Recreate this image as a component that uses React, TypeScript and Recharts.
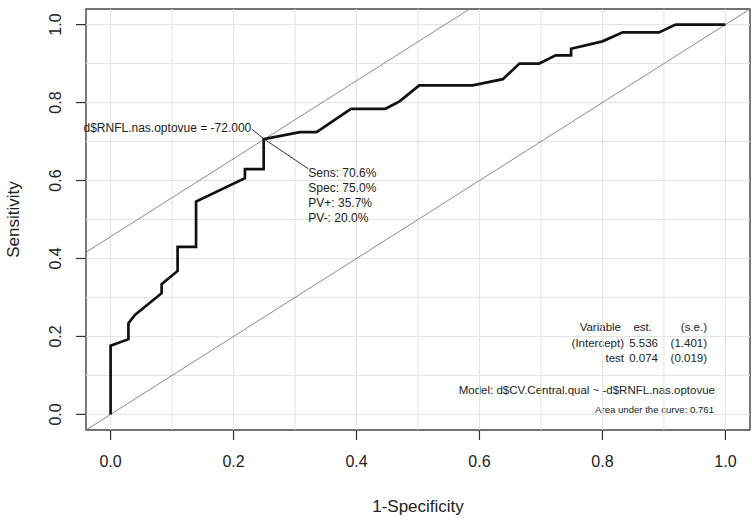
import {
  ComposedChart,
  Customized,
  Line,
  ReferenceArea,
  ReferenceDot,
  ReferenceLine,
  XAxis,
  YAxis,
} from "recharts";

// ROC curve (1-specificity, sensitivity)
const rocFpr = [
  0, 0, 0.029, 0.029, 0.04, 0.083, 0.083, 0.109, 0.109, 0.139, 0.139, 0.2185, 0.2185, 0.249,
  0.249, 0.308, 0.335, 0.391, 0.447, 0.47, 0.502, 0.589, 0.638, 0.665, 0.697, 0.724, 0.749,
  0.749, 0.8, 0.833, 0.892, 0.919, 1.0,
];
const rocTpr = [
  0, 0.176, 0.193, 0.234, 0.256, 0.311, 0.334, 0.368, 0.43, 0.43, 0.546, 0.606, 0.629, 0.629,
  0.706, 0.724, 0.724, 0.784, 0.784, 0.803, 0.844, 0.844, 0.86, 0.9, 0.9, 0.921, 0.921, 0.938,
  0.957, 0.98, 0.98, 1.0, 1.0,
];

const axisTicks = [0, 0.2, 0.4, 0.6, 0.8, 1.0];
const gridValues = [0, 0.1, 0.2, 0.3, 0.4, 0.5, 0.6, 0.7, 0.8, 0.9, 1.0];

const cutoffFpr = 0.25;
const cutoffTpr = 0.706;
const cutoffLabel = "d$RNFL.nas.optovue = -72.000";
const cutoffStats = ["Sens: 70.6%", "Spec: 75.0%", "PV+: 35.7%", "PV-: 20.0%"];

const modelRows = [
  ["Variable", "est.", "(s.e.)"],
  ["(Intercept)", "5.536", "(1.401)"],
  ["test", "0.074", "(0.019)"],
];
const modelText = "Model:  d$CV.Central.qual ~ -d$RNFL.nas.optovue";
const aucText = "Area under the curve: 0.761";

const LO = -0.04;
const HI = 1.04;
const FONT = "'Liberation Sans', Arial, sans-serif";
const TEXT = "#222";

const roc = rocFpr.map((x, i) => ({ x, y: rocTpr[i] }));

function YTick(props: any) {
  const { x, y, payload } = props;
  return (
    <text
      x={x}
      y={y}
      transform={`rotate(-90, ${x}, ${y})`}
      textAnchor="middle"
      fontSize={16}
      fontFamily={FONT}
      fill={TEXT}
    >
      {Number(payload.value).toFixed(1)}
    </text>
  );
}

function YTitle(props: any) {
  const { viewBox } = props;
  const x = 19;
  const y = viewBox.y + viewBox.height / 2;
  return (
    <text
      x={x}
      y={y}
      transform={`rotate(-90, ${x}, ${y})`}
      textAnchor="middle"
      fontSize={17}
      fontFamily={FONT}
      fill={TEXT}
    >
      Sensitivity
    </text>
  );
}

function CutoffLabel(props: any) {
  const { viewBox } = props;
  const cx = viewBox.x;
  const cy = viewBox.y;
  return (
    <g fontFamily={FONT} fontSize={12} fill={TEXT}>
      <text x={cx - 13} y={cy - 7} textAnchor="end">
        {cutoffLabel}
      </text>
      {cutoffStats.map((s, i) => (
        <text key={s} x={cx + 44} y={cy + 37.5 + i * 15.2}>
          {s}
        </text>
      ))}
    </g>
  );
}

function ModelTable() {
  const cols = [624, 658, 707];
  return (
    <g fontFamily={FONT} fill={TEXT}>
      {modelRows.map((row, r) => (
        <g key={r} fontSize={11.5}>
          {row.map((cell, c) => (
            <text
              key={c}
              x={r === 0 && c < 2 ? cols[c] - (c === 0 ? 3 : 6) : cols[c]}
              y={330.8 + r * 15.8}
              textAnchor="end"
            >
              {cell}
            </text>
          ))}
        </g>
      ))}
      <text x={715} y={393.5} textAnchor="end" fontSize={11.5}>
        {modelText}
      </text>
      <text x={714} y={413} textAnchor="end" fontSize={9.6}>
        {aucText}
      </text>
    </g>
  );
}

export default function App() {
  return (
    <div style={{ position: "absolute", left: 0, top: 0, background: "#fff" }}>
      <ComposedChart
        width={752}
        height={524}
        data={roc}
        margin={{ top: 9, right: 2, left: 0, bottom: 0 }}
      >
        <XAxis
          dataKey="x"
          type="number"
          domain={[LO, HI]}
          ticks={axisTicks}
          allowDataOverflow
          axisLine={false}
          tickSize={10}
          tickMargin={16}
          tickLine={{ stroke: "#333", strokeWidth: 1.2 }}
          tick={{ fontSize: 16, fill: TEXT, fontFamily: FONT }}
          tickFormatter={(v: number) => v.toFixed(1)}
          height={94}
          label={{
            value: "1-Specificity",
            position: "insideTop",
            offset: 70,
            fontSize: 17,
            fill: TEXT,
            fontFamily: FONT,
          }}
        />
        <YAxis
          type="number"
          domain={[LO, HI]}
          ticks={axisTicks}
          allowDataOverflow
          axisLine={false}
          tickSize={10}
          tickMargin={15}
          tickLine={{ stroke: "#333", strokeWidth: 1.2 }}
          tick={<YTick />}
          width={86}
          label={{ value: "Sensitivity", content: <YTitle /> }}
        />
        {gridValues.map((v) => (
          <ReferenceLine key={`gx${v}`} x={v} stroke="#e3e3e3" strokeWidth={1} />
        ))}
        {gridValues.map((v) => (
          <ReferenceLine key={`gy${v}`} y={v} stroke="#e3e3e3" strokeWidth={1} />
        ))}
        <ReferenceLine
          segment={[
            { x: LO, y: LO },
            { x: HI, y: HI },
          ]}
          stroke="#8a8a8a"
          strokeWidth={1}
        />
        <ReferenceLine
          segment={[
            { x: LO, y: LO + cutoffTpr - cutoffFpr },
            { x: HI - (cutoffTpr - cutoffFpr), y: HI },
          ]}
          stroke="#8a8a8a"
          strokeWidth={1}
        />
        <ReferenceLine
          segment={[
            { x: cutoffFpr, y: cutoffTpr },
            { x: 0.2295, y: 0.732 },
          ]}
          stroke="#333"
          strokeWidth={1}
        />
        <ReferenceLine
          segment={[
            { x: cutoffFpr, y: cutoffTpr },
            { x: 0.3216, y: 0.63 },
          ]}
          stroke="#333"
          strokeWidth={1}
        />
        <Line
          dataKey="y"
          type="linear"
          stroke="#111"
          strokeWidth={2.7}
          dot={false}
          activeDot={false}
          isAnimationActive={false}
        />
        <ReferenceDot
          x={cutoffFpr}
          y={cutoffTpr}
          r={0}
          fill="none"
          stroke="none"
          label={<CutoffLabel />}
        />
        <ReferenceArea
          x1={LO}
          x2={HI}
          y1={LO}
          y2={HI}
          fill="none"
          fillOpacity={0}
          stroke="#444"
          strokeWidth={1.4}
        />
        <Customized component={<ModelTable />} />
      </ComposedChart>
    </div>
  );
}
